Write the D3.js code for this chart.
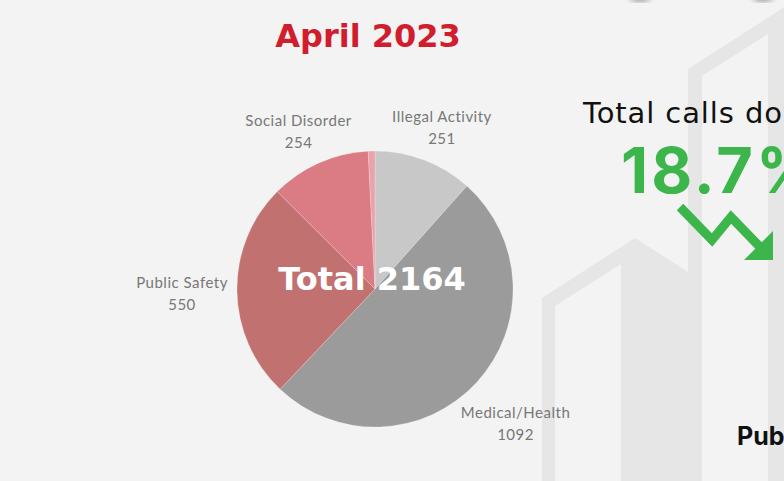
<!DOCTYPE html>
<html>
<head>
<meta charset="utf-8">
<script src="https://cdn.jsdelivr.net/npm/d3@7"></script>
<style>
  html, body { margin: 0; padding: 0; background: #f3f3f3; }
  svg { display: block; }
</style>
</head>
<body>
<div id="chart"></div>
<script>
// Data
const categories = ["Illegal Activity", "Medical/Health", "Public Safety", "Social Disorder", "Other"];
const values = [251, 1092, 550, 254, 17];
const showLabel = [true, true, true, true, false];
const sliceColors = ["#c8c8c8", "#9b9b9b", "#c27171", "#db7c85", "#eaa3aa"];
const title = "April 2023";
const totalLabel = "Total 2164";
const changeText = "Total calls down";
const changeValue = "18.7%";
const footLabel = "Public Safety";

const width = 784, height = 481;
const cx = 375, cy = 289, radius = 138;

const svg = d3.select("#chart").append("svg")
    .attr("width", width)
    .attr("height", height);

svg.append("rect")
    .attr("width", width)
    .attr("height", height)
    .attr("fill", "#f3f3f3");

// blurred blobs at the top edge
const defs = svg.append("defs");
defs.append("filter").attr("id", "blur")
    .append("feGaussianBlur").attr("stdDeviation", 3);
svg.append("g").attr("filter", "url(#blur)")
    .selectAll("ellipse")
    .data([640, 763])
    .join("ellipse")
    .attr("cx", d => d)
    .attr("cy", -3)
    .attr("rx", 10)
    .attr("ry", 5)
    .attr("fill", "#a0a0a0");

// background buildings
const bg = svg.append("g").attr("fill", "#e6e6e6").attr("fill-rule", "evenodd");
bg.append("path")
    .attr("d", "M542,481 L542,298 L635,238 L688,272 L688,481 Z M555,481 L555,306 L621,264 L621,481 Z");
bg.append("path")
    .attr("d", "M688,481 L688,69 L800,-3 L800,481 Z M702,481 L702,76 L768,34 L768,481 Z");

// Title
svg.append("text")
    .attr("x", 368)
    .attr("y", 47)
    .attr("text-anchor", "middle")
    .attr("font-family", "'DejaVu Sans', sans-serif")
    .attr("font-weight", "bold")
    .attr("font-size", 32)
    .attr("fill", "#d01e2e")
    .text(title);

// Pie
const pie = d3.pie().sort(null).value(d => d.value);
const arc = d3.arc().innerRadius(0).outerRadius(radius);
const labelR = 185;

const data = categories.map((c, i) => ({ name: c, value: values[i], color: sliceColors[i], show: showLabel[i] }));
const arcs = pie(data);

const g = svg.append("g").attr("transform", `translate(${cx}, ${cy})`);

g.selectAll("path")
    .data(arcs)
    .join("path")
    .attr("d", arc)
    .attr("fill", d => d.data.color)
    .attr("stroke", "rgba(255,255,255,0.35)")
    .attr("stroke-width", 0.6);

// label anchor: outside the slice, nudged for the text box
function labelPos(d) {
    const a = (d.startAngle + d.endAngle) / 2;
    const s = Math.sin(a), c = Math.cos(a);
    return [labelR * s + 8 * s * Math.abs(s), -labelR * c + 11 * Math.abs(c)];
}

const labels = g.selectAll("text.lbl")
    .data(arcs.filter(d => d.data.show))
    .join("text")
    .attr("class", "lbl")
    .attr("transform", d => `translate(${labelPos(d)})`)
    .attr("text-anchor", "middle")
    .attr("font-family", "Lato, sans-serif")
    .attr("font-size", 15)
    .attr("letter-spacing", 0.5)
    .attr("fill", "#777");
labels.append("tspan")
    .attr("x", 0)
    .attr("y", -4)
    .text(d => d.data.name);
labels.append("tspan")
    .attr("x", 0)
    .attr("y", 18)
    .text(d => d.data.value);

// Total in the middle
svg.append("text")
    .attr("x", 372)
    .attr("y", 290)
    .attr("text-anchor", "middle")
    .attr("font-family", "'DejaVu Sans', sans-serif")
    .attr("font-weight", "bold")
    .attr("font-size", 32)
    .attr("fill", "#fff")
    .text(totalLabel);

// Right side text
svg.append("text")
    .attr("x", 583)
    .attr("y", 123)
    .attr("font-family", "'DejaVu Sans', sans-serif")
    .attr("font-size", 29)
    .attr("letter-spacing", 0.9)
    .attr("fill", "#111")
    .text(changeText);

svg.append("text")
    .attr("x", 621)
    .attr("y", 193)
    .attr("font-family", "Inter, sans-serif")
    .attr("font-weight", "bold")
    .attr("font-size", 63)
    .attr("letter-spacing", 3)
    .attr("fill", "#3cb54a")
    .text(changeValue);

// Down arrow
svg.append("polyline")
    .attr("points", "680,207 712,240 731,217 760,247")
    .attr("fill", "none")
    .attr("stroke", "#3cb54a")
    .attr("stroke-width", 9);
svg.append("polygon")
    .attr("points", "744,260 773,260 773,231")
    .attr("fill", "#3cb54a");

svg.append("text")
    .attr("x", 737)
    .attr("y", 445)
    .attr("font-family", "Inter, sans-serif")
    .attr("font-weight", "bold")
    .attr("font-size", 25)
    .attr("fill", "#111")
    .text(footLabel);
</script>
</body>
</html>
